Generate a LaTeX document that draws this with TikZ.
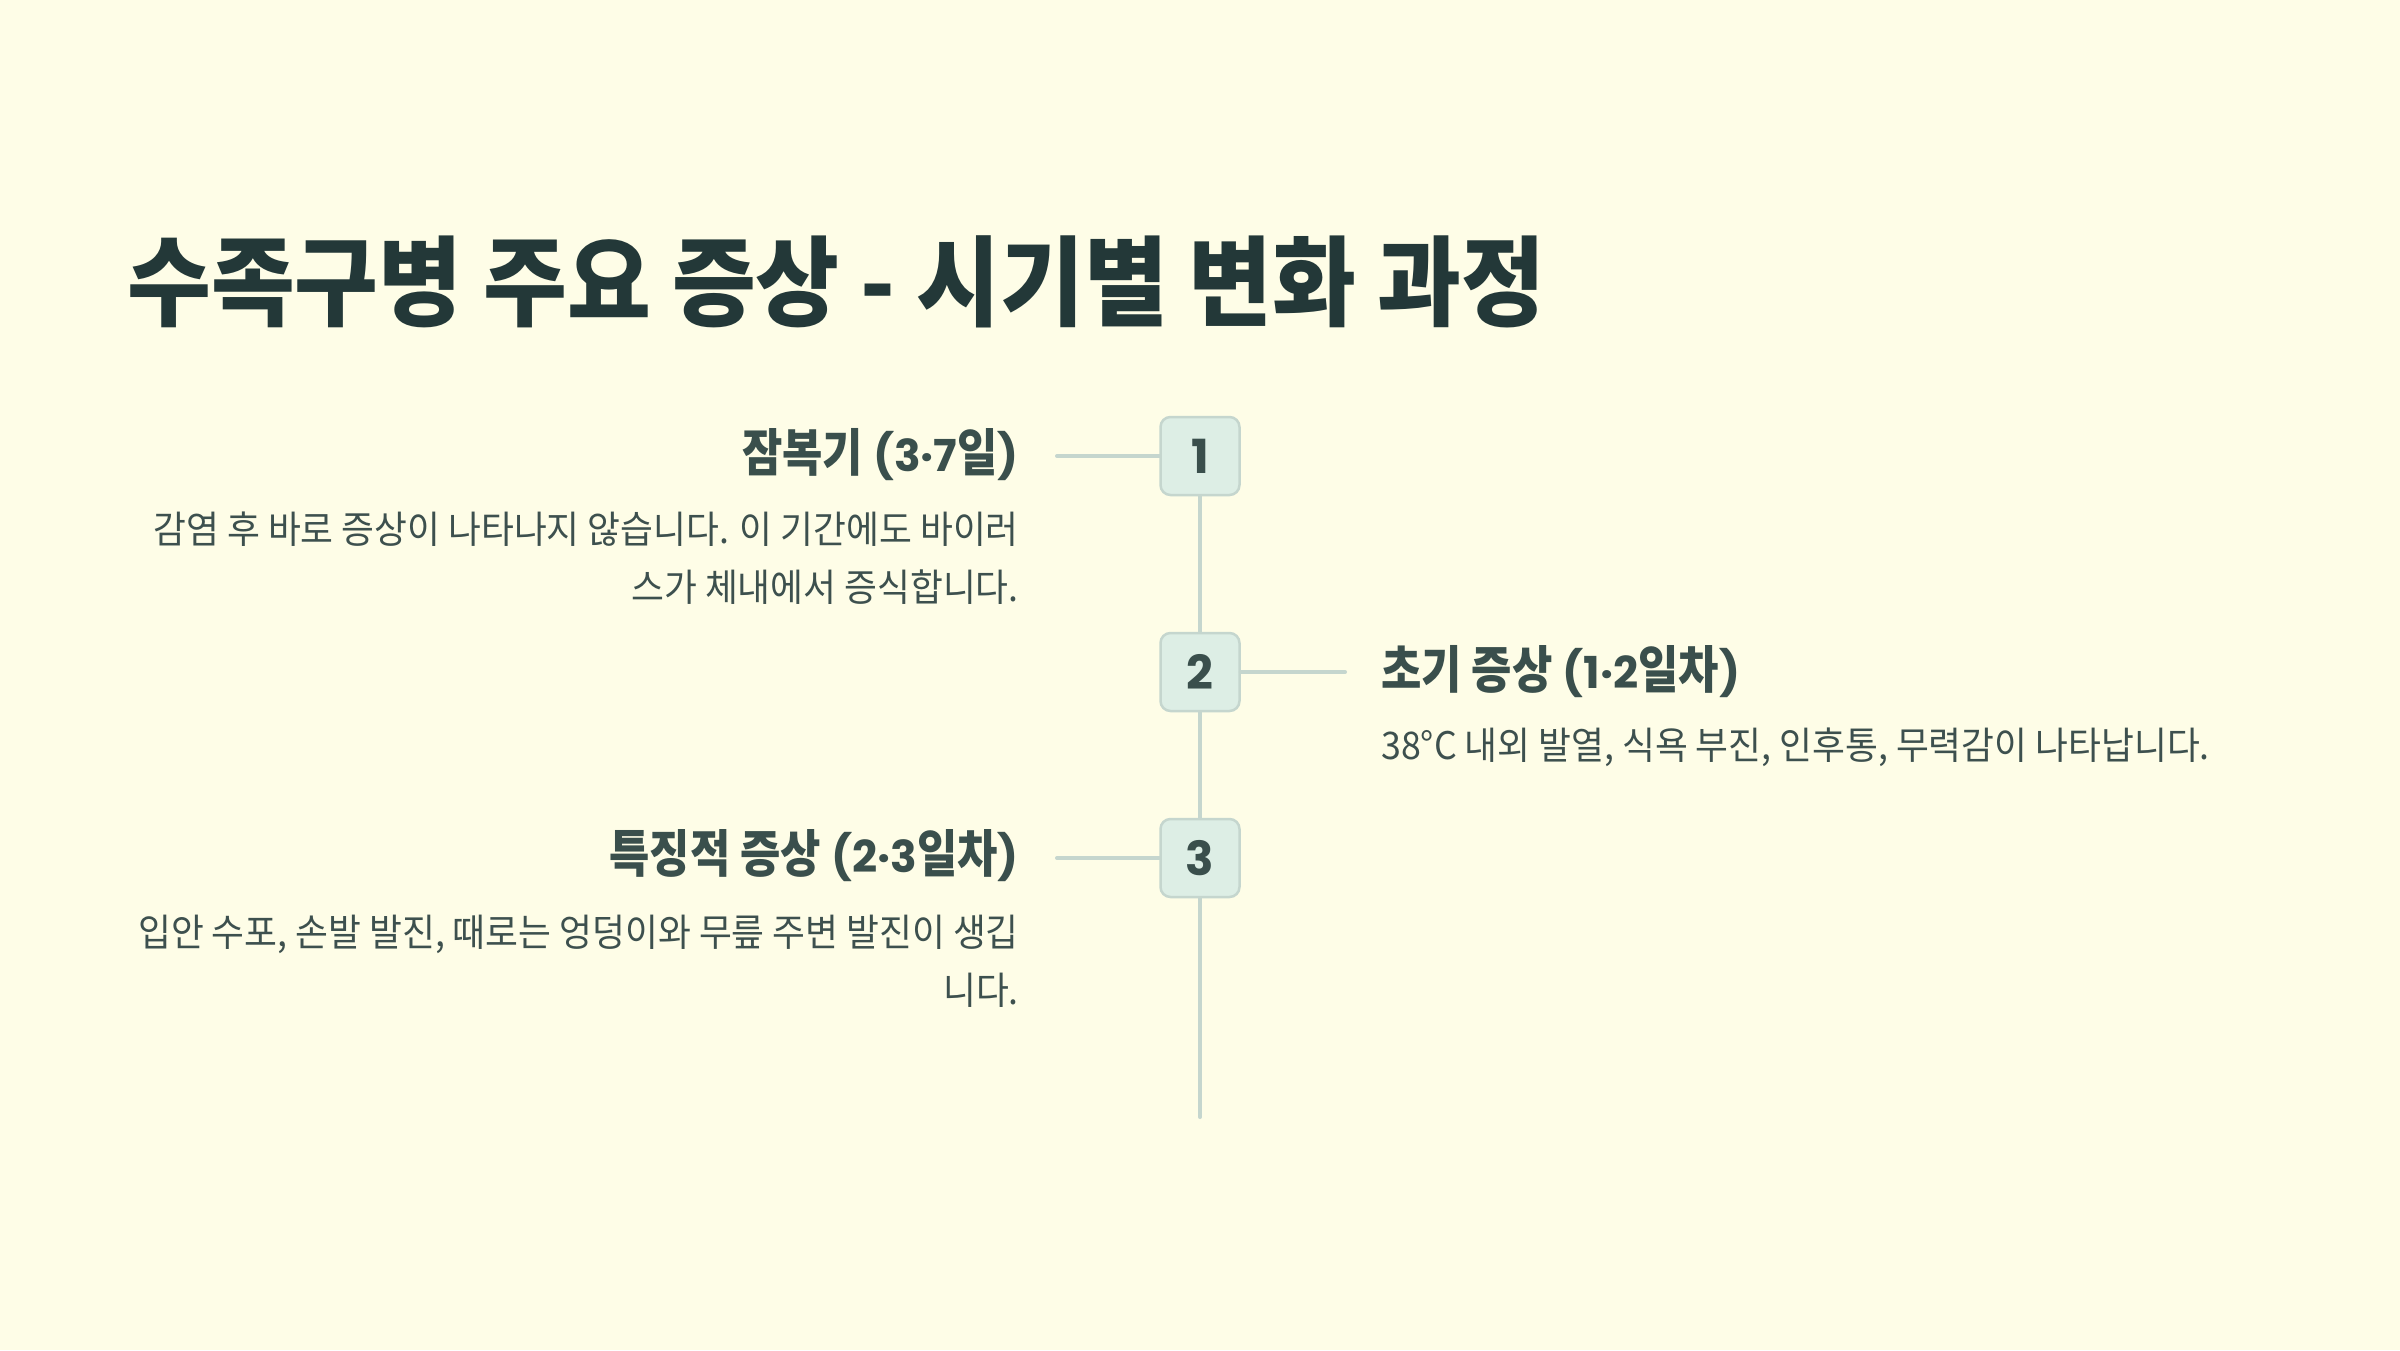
\documentclass[tikz,border=0pt]{standalone}
\usepackage{fontspec}
\setmainfont[FakeStretch=0.94]{Noto Sans CJK KR}
\newfontfamily\titlefont[FakeStretch=0.93]{Noto Sans CJK KR}
\newfontfamily\headfont[FakeStretch=0.86]{Noto Sans CJK KR}
\newfontfamily\numfont{Poppins}
\newcommand{\nm}[1]{{\numfont\fontsize{44}{50}\selectfont #1}}
\usetikzlibrary{positioning}

\definecolor{bgcream}{HTML}{FEFDE7}
\definecolor{titleink}{HTML}{233838}
\definecolor{headink}{HTML}{3A4F4C}
\definecolor{bodyink}{HTML}{3D504E}
\definecolor{spinegreen}{HTML}{C5D6CE}
\definecolor{boxgreen}{HTML}{DDEEE5}

\tikzset{
  titletext/.style={inner sep=0pt, text=titleink, font=\titlefont\fontsize{98}{110}\selectfont\bfseries},
  headtext/.style={inner sep=0pt, text=headink, font=\headfont\fontsize{51}{60}\selectfont\bfseries},
  bodytext/.style={inner sep=0pt, text=bodyink, font=\fontsize{38}{58}\selectfont},
  numbox/.style={draw=spinegreen, fill=boxgreen, line width=2.5pt, rounded corners=10pt,
    minimum width=79pt, minimum height=78pt, inner sep=0pt, text=headink,
    font=\numfont\fontsize{47}{47}\selectfont\bfseries},
  spine/.style={draw=spinegreen, line width=4pt}
}

\begin{document}
\begin{tikzpicture}[
  x=1pt, y=-1pt,
  line cap=round,
  line join=round
]
  % Фон
  \fill[bgcream] (0,0) rectangle (2400,1350);
  \useasboundingbox (0,0) rectangle (2400,1350);

  % Заголовок
  \node[titletext, anchor=west] (title) at (127,282) {수족구병 주요 증상 - 시기별 변화 과정};

  % Шаги
  \node[numbox] (n1) at (1200,456) {1};
  \node[numbox] (n2) at (1200,672) {2};
  \node[numbox] (n3) at (1200,858) {3};

  % Ось
  \coordinate (axisend) at (1200,1117);
  \draw[spine] (n1.south) -- (n2.north);
  \draw[spine] (n2.south) -- (n3.north);
  \draw[spine] (n3.south) -- (axisend);

  % Отводы
  \coordinate (c1) at (1057,456);
  \coordinate (c2) at (1345,672);
  \coordinate (c3) at (1057,858);
  \draw[spine] (c1) -- (n1.west);
  \draw[spine] (n2.east) -- (c2);
  \draw[spine] (c3) -- (n3.west);

  % Тексты
  \node[headtext, anchor=east] (h1) at (1019,455) {잠복기 \nm{(3·7}일\nm{)}};
  \node[bodytext, anchor=north east, align=right] (b1) at (1019,512)
    {감염 후 바로 증상이 나타나지 않습니다. 이 기간에도 바이러\\스가 체내에서 증식합니다.};

  \node[headtext, anchor=west] (h2) at (1381,672) {초기 증상 \nm{(1·2}일차\nm{)}};
  \node[bodytext, anchor=north west, align=left] (b2) at (1381,728)
    {38°C 내외 발열, 식욕 부진, 인후통, 무력감이 나타납니다.};

  \node[headtext, anchor=east] (h3) at (1019,856) {특징적 증상 \nm{(2·3}일차\nm{)}};
  \node[bodytext, anchor=north east, align=right] (b3) at (1019,915)
    {입안 수포, 손발 발진, 때로는 엉덩이와 무릎 주변 발진이 생깁\\니다.};
\end{tikzpicture}
\end{document}
